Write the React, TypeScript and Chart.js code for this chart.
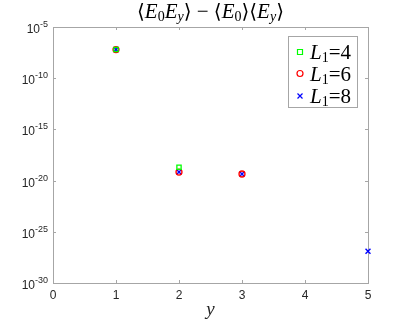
import React, { useEffect, useRef } from "react";
import { Chart, registerables } from "chart.js";
Chart.register(...registerables);

const xL4 = [1, 2];
const valsL4 = [6.3e-8, 2.0e-19];
const xL6 = [1, 2, 3];
const valsL6 = [6.3e-8, 6.8e-20, 4.4e-20];
const xL8 = [1, 2, 3, 5];
const valsL8 = [6.3e-8, 6.8e-20, 4.4e-20, 1.26e-27];
const seriesNames = ["4", "6", "8"];
const xTicks = [0, 1, 2, 3, 4, 5];
const yTickExps = [-30, -25, -20, -15, -10, -5];

type Piece = { t: string; f: string; dy?: number };

function drawRich(ctx: CanvasRenderingContext2D, pieces: Piece[], x: number, y: number, align: "left" | "center" | "right") {
  let total = 0;
  const widths = pieces.map((p) => {
    ctx.font = p.f;
    const w = ctx.measureText(p.t).width;
    total += w;
    return w;
  });
  let cx = align === "left" ? x : align === "center" ? x - total / 2 : x - total;
  ctx.textAlign = "left";
  ctx.textBaseline = "alphabetic";
  pieces.forEach((p, i) => {
    ctx.font = p.f;
    ctx.fillText(p.t, cx, y + (p.dy || 0));
    cx += widths[i];
  });
}

const axesPlugin = {
  id: "axesBox",
  beforeDatasetsDraw(chart: any) {
    const { ctx, chartArea: a, scales } = chart;
    const xs = scales.x;
    const ys = scales.y;
    ctx.save();
    ctx.strokeStyle = "#a6a6a6";
    ctx.lineWidth = 1;
    ctx.strokeRect(Math.round(a.left) + 0.5, Math.round(a.top) + 0.5, Math.round(a.right - a.left), Math.round(a.bottom - a.top));
    ctx.beginPath();
    const tl = 3;
    xTicks.forEach((v) => {
      const px = Math.round(xs.getPixelForValue(v)) + 0.5;
      ctx.moveTo(px, a.bottom);
      ctx.lineTo(px, a.bottom - tl);
      ctx.moveTo(px, a.top);
      ctx.lineTo(px, a.top + tl);
    });
    yTickExps.forEach((e) => {
      const py = Math.round(ys.getPixelForValue(Math.pow(10, e))) + 0.5;
      ctx.moveTo(a.left, py);
      ctx.lineTo(a.left + tl, py);
      ctx.moveTo(a.right, py);
      ctx.lineTo(a.right - tl, py);
    });
    ctx.stroke();
    ctx.fillStyle = "#262626";
    ctx.textAlign = "center";
    ctx.textBaseline = "top";
    ctx.font = "12px 'Liberation Sans', Arial, sans-serif";
    xTicks.forEach((v) => {
      ctx.fillText(String(v), xs.getPixelForValue(v), a.bottom + 7);
    });
    yTickExps.forEach((e) => {
      const py = ys.getPixelForValue(Math.pow(10, e));
      drawRich(
        ctx,
        [
          { t: "10", f: "12px 'Liberation Sans', Arial, sans-serif" },
          { t: String(e), f: "9px 'Liberation Sans', Arial, sans-serif", dy: -6 },
        ],
        a.left - 5,
        py + 6,
        "right"
      );
    });
    ctx.font = "italic 19px 'Liberation Serif', 'DejaVu Serif', serif";
    ctx.textAlign = "center";
    ctx.textBaseline = "alphabetic";
    ctx.fillText("y", (a.left + a.right) / 2, a.bottom + 32);
    ctx.restore();
  },
  afterDraw(chart: any) {
    const { ctx, chartArea: a } = chart;
    ctx.save();
    ctx.fillStyle = "#000";
    const R = "21px 'Liberation Serif', 'DejaVu Serif', serif";
    const I = "italic 21px 'Liberation Serif', 'DejaVu Serif', serif";
    const S = "italic 14px 'Liberation Serif', 'DejaVu Serif', serif";
    const S0 = "14px 'Liberation Serif', 'DejaVu Serif', serif";
    const B = "20px 'DejaVu Serif', serif";
    drawRich(
      ctx,
      [
        { t: "⟨", f: B },
        { t: "E", f: I },
        { t: "0", f: S0, dy: 3 },
        { t: "E", f: I },
        { t: "y", f: S, dy: 3 },
        { t: "⟩", f: B },
        { t: " − ", f: R },
        { t: "⟨", f: B },
        { t: "E", f: I },
        { t: "0", f: S0, dy: 3 },
        { t: "⟩⟨", f: B },
        { t: "E", f: I },
        { t: "y", f: S, dy: 3 },
        { t: "⟩", f: B },
      ],
      (a.left + a.right) / 2,
      18,
      "center"
    );
    // legend
    const lx = 288.5, ly = 36.5, lw = 69, lh = 71;
    ctx.fillStyle = "#fff";
    ctx.fillRect(lx, ly, lw, lh);
    ctx.strokeStyle = "#a6a6a6";
    ctx.lineWidth = 1;
    ctx.strokeRect(lx, ly, lw, lh);
    const rows = [52, 73.5, 96];
    chart.data.datasets.forEach((ds: any, i: number) => {
      const cy = rows[i];
      const mx = 300;
      ctx.strokeStyle = ds.borderColor;
      ctx.lineWidth = 1.2;
      ctx.beginPath();
      if (i === 0) {
        ctx.rect(mx - 2.5, cy - 2.5, 5, 5);
      } else if (i === 1) {
        ctx.arc(mx, cy, 3, 0, Math.PI * 2);
      } else {
        ctx.moveTo(mx - 2.5, cy - 2.5);
        ctx.lineTo(mx + 2.5, cy + 2.5);
        ctx.moveTo(mx + 2.5, cy - 2.5);
        ctx.lineTo(mx - 2.5, cy + 2.5);
      }
      ctx.stroke();
      ctx.fillStyle = "#000";
      drawRich(
        ctx,
        [
          { t: "L", f: "italic 21px 'Liberation Serif', 'DejaVu Serif', serif" },
          { t: "1", f: "14px 'Liberation Serif', 'DejaVu Serif', serif", dy: 3 },
          { t: "=" + seriesNames[i], f: "21px 'Liberation Serif', 'DejaVu Serif', serif" },
        ],
        310,
        cy + 7,
        "left"
      );
    });
    ctx.restore();
  },
};

export default function App() {
  const ref = useRef<HTMLCanvasElement>(null);
  useEffect(() => {
    const mk = (xs: number[], vs: number[]) => xs.map((x, i) => ({ x, y: vs[i] }));
    const chart = new Chart(ref.current!, {
      type: "scatter",
      data: {
        datasets: [
          { label: "L1=4", data: mk(xL4, valsL4), pointStyle: "rect", borderColor: "rgb(0,255,0)", backgroundColor: "rgba(0,0,0,0)", pointRadius: 3, borderWidth: 1.3, clip: false } as any,
          { label: "L1=6", data: mk(xL6, valsL6), pointStyle: "circle", borderColor: "rgb(255,0,0)", backgroundColor: "rgba(0,0,0,0)", pointRadius: 3, borderWidth: 1.3, clip: false } as any,
          { label: "L1=8", data: mk(xL8, valsL8), pointStyle: "crossRot", borderColor: "rgb(0,0,255)", backgroundColor: "rgba(0,0,0,0)", pointRadius: 3.5, borderWidth: 1.4, clip: false } as any,
        ],
      },
      options: {
        animation: false,
        responsive: false,
        layout: { padding: { left: 53, right: 39, top: 27, bottom: 43 } },
        scales: {
          x: { type: "linear", display: false, min: 0, max: 5 },
          y: { type: "logarithmic", display: false, min: 1e-30, max: 1e-5 },
        },
        plugins: { legend: { display: false }, title: { display: false }, tooltip: { enabled: false } },
      },
      plugins: [axesPlugin],
    });
    return () => chart.destroy();
  }, []);
  return (
    <div style={{ position: "absolute", left: 0, top: 0, width: 407, height: 326, background: "#fff" }}>
      <canvas ref={ref} width={407} height={326} style={{ display: "block" }} />
    </div>
  );
}
